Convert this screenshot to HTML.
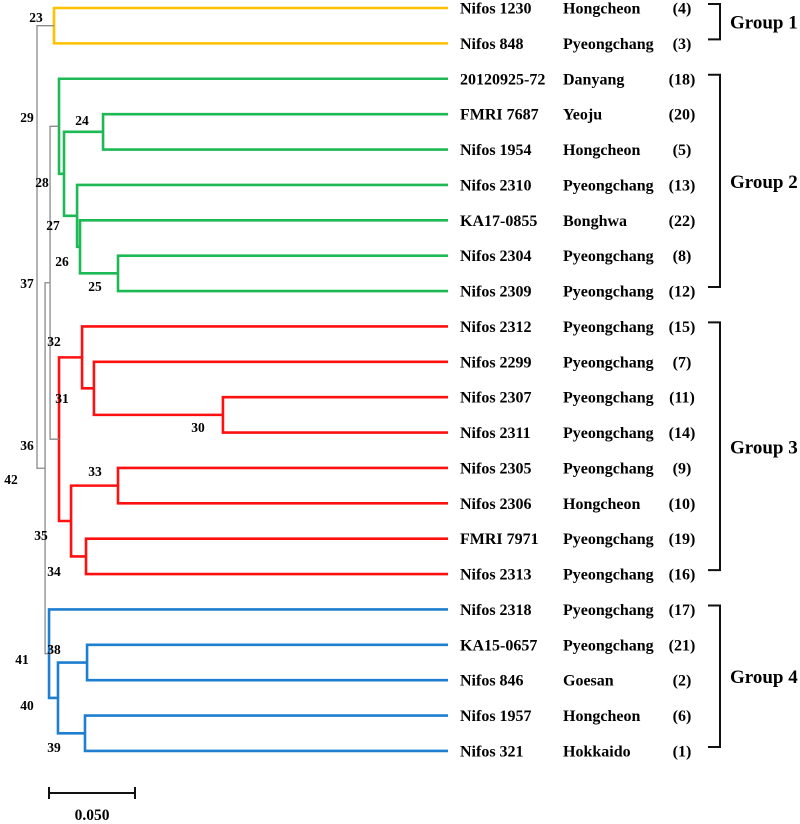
<!DOCTYPE html>
<html><head><meta charset="utf-8"><style>
html,body{margin:0;padding:0;background:#fff;}
svg{display:block;font-family:"Liberation Serif",serif;font-weight:bold;}
</style></head><body>
<svg id="chart" width="800" height="824" viewBox="0 0 800 824" xmlns="http://www.w3.org/2000/svg"></svg>
<script>
const leafNames=["Nifos 1230","Nifos 848","20120925-72","FMRI 7687","Nifos 1954","Nifos 2310","KA17-0855","Nifos 2304","Nifos 2309","Nifos 2312","Nifos 2299","Nifos 2307","Nifos 2311","Nifos 2305","Nifos 2306","FMRI 7971","Nifos 2313","Nifos 2318","KA15-0657","Nifos 846","Nifos 1957","Nifos 321"];
const leafPlaces=["Hongcheon","Pyeongchang","Danyang","Yeoju","Hongcheon","Pyeongchang","Bonghwa","Pyeongchang","Pyeongchang","Pyeongchang","Pyeongchang","Pyeongchang","Pyeongchang","Pyeongchang","Hongcheon","Pyeongchang","Pyeongchang","Pyeongchang","Pyeongchang","Goesan","Hongcheon","Hokkaido"];
const leafIds=["(4)","(3)","(18)","(20)","(5)","(13)","(22)","(8)","(12)","(15)","(7)","(11)","(14)","(9)","(10)","(19)","(16)","(17)","(21)","(2)","(6)","(1)"];
const mergeA=[0,3,7,6,5,23,2,11,10,9,13,15,32,31,18,20,36,17,28,40,22];
const mergeB=[1,4,8,24,25,26,27,12,29,30,14,16,33,34,19,21,37,38,35,39,41];
const mergeDist=[0.0099,0.0384,0.0471,0.0250,0.0233,0.0157,0.0128,0.1081,0.0331,0.0262,0.0471,0.0285,0.0198,0.0128,0.0291,0.0279,0.0122,0.0070,0.0076,0.0047,0];
const mergeGroup=["y","g","g","g","g","g","g","r","r","r","r","r","r","r","b","b","b","b","k","k","k"];
const groupNames=["Group 1","Group 2","Group 3","Group 4"];
const groupStart=[0,2,9,17];
const groupEnd=[1,8,16,21];
const scaleValue=0.050;

const colors={y:"#FFC000",g:"#1DB954",r:"#FF1010",b:"#1E7FD0",k:"#8A8A8A"};
const svg=document.getElementById('chart');
const NS="http://www.w3.org/2000/svg";
const X0=37, PXU=1720, XLEAF=448, Y0=8, DY=35.38;
const xs=d=>X0+d*PXU;
const ys=i=>Y0+i*DY;
const nodeX=[],nodeY=[];
for(let i=0;i<leafNames.length;i++){nodeX[i]=XLEAF;nodeY[i]=ys(i);}
function mk(tag,attrs){const e=document.createElementNS(NS,tag);for(const k in attrs)e.setAttribute(k,attrs[k]);svg.appendChild(e);return e;}
for(let m=0;m<mergeA.length;m++){
  const a=mergeA[m],b=mergeB[m],id=22+m;
  const x=xs(mergeDist[m]);
  nodeX[id]=x;nodeY[id]=(nodeY[a]+nodeY[b])/2;
  const c=colors[mergeGroup[m]],w=mergeGroup[m]==="k"?1.3:2.6;
  const p=mk('path',{d:`M${nodeX[a]} ${nodeY[a]} H${x} V${nodeY[b]} H${nodeX[b]}`,fill:'none',stroke:c,'stroke-width':w});
  
  
}
for(let i=0;i<leafNames.length;i++){
  const y=ys(i)+5.5;
  const t1=mk('text',{x:460,y:y,'font-size':16});t1.textContent=leafNames[i];
  
  
  const t2=mk('text',{x:563,y:y,'font-size':16});t2.textContent=leafPlaces[i];
  
  
  const t3=mk('text',{x:682,y:y,'font-size':16,'text-anchor':'middle'});t3.textContent=leafIds[i];
  
  
}
for(let g=0;g<groupNames.length;g++){
  const y1=ys(groupStart[g])-4,y2=ys(groupEnd[g])-4;
  const br=mk('path',{d:`M708 ${y1} H720 V${y2} H708`,fill:'none',stroke:'#111','stroke-width':2});
  
  
  const t=mk('text',{x:730,y:(y1+y2)/2+7,'font-size':19});t.textContent=groupNames[g];
  
  
}
const nodeLabels=[["23",36,17],["29",27,117],["24",82,120],["28",42,182],["27",53,225],["26",62,261],["25",95,286],["37",27,283],["32",54,341],["31",62,398],["30",198,427],["36",27,445],["42",11,479],["33",95,471],["35",41,535],["34",54,571],["38",54,649],["41",22,659],["40",27,705],["39",54,747]];
for(const n of nodeLabels){
  const t=mk('text',{x:n[1],y:n[2]+5,'font-size':13.5,'text-anchor':'middle'});t.textContent=n[0];
  
  
}
const sx1=49,sx2=49+scaleValue*PXU;
const sb=mk('path',{d:`M${sx1} 793 H${sx2} M${sx1} 787 V799 M${sx2} 787 V799`,fill:'none',stroke:'#111','stroke-width':2});


const st=mk('text',{x:(sx1+sx2)/2,y:820,'font-size':15.5,'text-anchor':'middle'});st.textContent=scaleValue.toFixed(3);


</script>
</body></html>
